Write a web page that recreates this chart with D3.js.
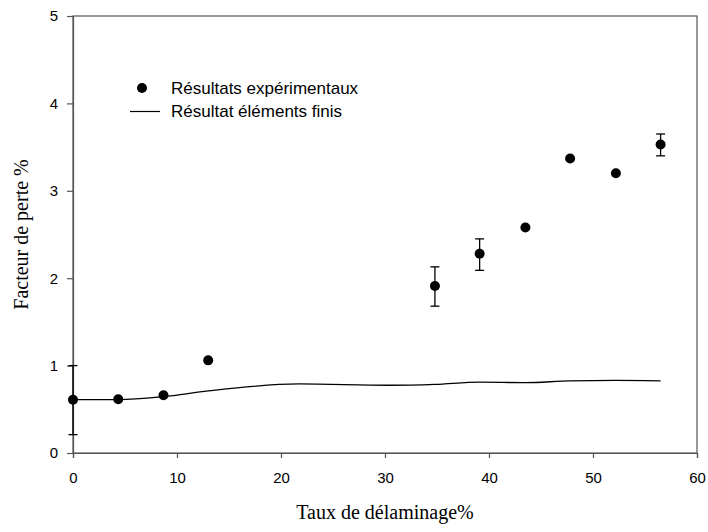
<!DOCTYPE html>
<html><head><meta charset="utf-8">
<script src="https://cdn.jsdelivr.net/npm/d3@7"></script>
<style>body{margin:0;background:#fff}</style>
</head><body>
<svg id="c" width="708" height="532"></svg>
<script>
const expX = [0, 4.35, 8.7, 13.0, 34.8, 39.1, 43.5, 47.8, 52.2, 56.5];
const expY = [0.61, 0.615, 0.66, 1.06, 1.91, 2.28, 2.58, 3.37, 3.20, 3.53];
const expLo = [0.21, null, null, null, 1.68, 2.09, null, null, null, 3.40];
const expHi = [1.00, null, null, null, 2.13, 2.45, null, null, null, 3.65];
const feX = [0, 4.35, 8.7, 13.0, 21.7, 30.4, 34.8, 39.1, 43.5, 47.8, 52.2, 56.5];
const feY = [0.61, 0.61, 0.645, 0.71, 0.79, 0.775, 0.785, 0.81, 0.805, 0.825, 0.83, 0.825];
const xTicks = [0, 10, 20, 30, 40, 50, 60];
const yTicks = [0, 1, 2, 3, 4, 5];
const legendLabels = ["Résultats expérimentaux", "Résultat éléments finis"];
const xTitle = "Taux de délaminage%";
const yTitle = "Facteur de perte %";

const svg = d3.select("#c");
const L = 73, R = 697, T = 16, B = 453;
const x = d3.scaleLinear().domain([0, 60]).range([L, R]);
const y = d3.scaleLinear().domain([0, 5]).range([B, T]);
const frame = "#555";

// frame
svg.append("rect").attr("x", L).attr("y", T).attr("width", R - L).attr("height", B - T)
  .attr("fill", "none").attr("stroke", frame).attr("stroke-width", 1.2);

const xa = svg.append("g").attr("transform", `translate(0,${B})`)
  .call(d3.axisBottom(x).tickValues(xTicks).tickSize(5).tickPadding(14).tickFormat(d3.format("d")));
const ya = svg.append("g").attr("transform", `translate(${L},0)`)
  .call(d3.axisLeft(y).tickValues(yTicks).tickSize(6).tickPadding(9).tickFormat(d3.format("d")));
[xa, ya].forEach(a => {
  a.select(".domain").attr("stroke", frame).attr("stroke-width", 1.2);
  a.selectAll(".tick line").attr("stroke", frame).attr("stroke-width", 1.2);
  a.selectAll(".tick text").attr("font-family", "Liberation Sans, Arial, sans-serif")
    .attr("font-size", 15).attr("fill", "#000");
});

// FE line
const line = d3.line().x((d, i) => x(feX[i])).y(d => y(d)).curve(d3.curveMonotoneX);
svg.append("path").datum(feY).attr("d", line).attr("fill", "none")
  .attr("stroke", "#000").attr("stroke-width", 1.3);

// error bars
const eb = svg.append("g").attr("stroke", "#000").attr("stroke-width", 1.3);
expX.forEach((xv, i) => {
  if (expLo[i] == null) return;
  const cx = x(xv);
  eb.append("line").attr("x1", cx).attr("x2", cx).attr("y1", y(expLo[i])).attr("y2", y(expHi[i]));
  [expLo[i], expHi[i]].forEach(v => eb.append("line").attr("x1", cx - 4.5).attr("x2", cx + 4.5)
    .attr("y1", y(v)).attr("y2", y(v)));
});

// points
svg.append("g").selectAll("circle").data(expY).join("circle")
  .attr("cx", (d, i) => x(expX[i])).attr("cy", d => y(d)).attr("r", 5).attr("fill", "#000");

// legend
const lg = svg.append("g").attr("font-family", "Liberation Sans, Arial, sans-serif").attr("font-size", 17);
lg.append("circle").attr("cx", 142).attr("cy", 88).attr("r", 5).attr("fill", "#000");
lg.append("text").attr("x", 171).attr("y", 94).text(legendLabels[0]);
lg.append("line").attr("x1", 130).attr("x2", 160).attr("y1", 111.5).attr("y2", 111.5)
  .attr("stroke", "#000").attr("stroke-width", 1.2);
lg.append("text").attr("x", 171).attr("y", 117).text(legendLabels[1]);

// titles
svg.append("text").attr("x", (L + R) / 2).attr("y", 519).attr("text-anchor", "middle")
  .attr("font-family", "Liberation Serif, Times New Roman, serif").attr("font-size", 20).text(xTitle);
svg.append("text").attr("transform", `translate(28,${(T + B) / 2}) rotate(-90)`)
  .attr("text-anchor", "middle")
  .attr("font-family", "Liberation Serif, Times New Roman, serif").attr("font-size", 20).text(yTitle);
</script>
</body></html>
